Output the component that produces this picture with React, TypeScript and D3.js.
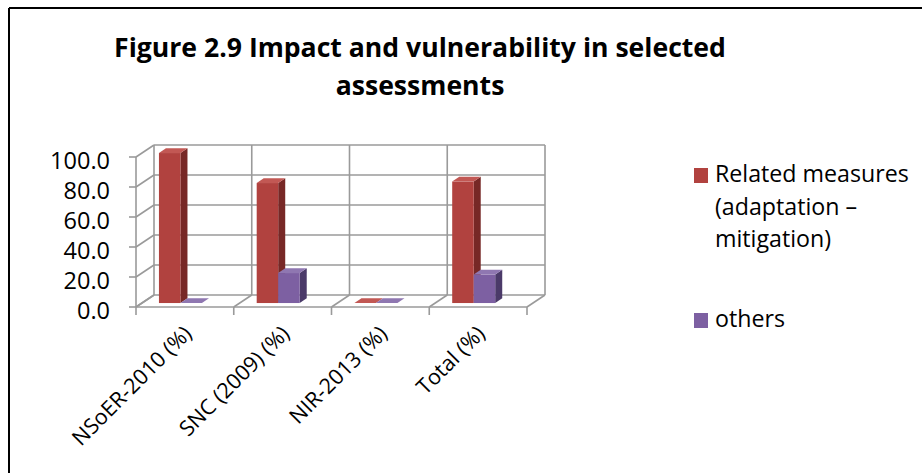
import React from "react";
import * as d3 from "d3";

const categories = ["NSoER-2010 (%)", "SNC (2009) (%)", "NIR-2013 (%)", "Total (%)"];
const relatedMeasures = [100, 80, 0, 81];
const others = [0, 20, 0, 19];
const yTicks = [0, 20, 40, 60, 80, 100];
const seriesNames = ["Related measures", "others"];
const legendLines = [["Related measures", "(adaptation –", "mitigation)"], ["others"]];
const titleLines = ["Figure 2.9 Impact and vulnerability in selected", "assessments"];

const seriesValues = [relatedMeasures, others];
const faceColors = [
  { front: "#B1423F", side: "#772826", top: "#C25854" },
  { front: "#7D60A2", side: "#4B3A69", top: "#8F77B1" },
];
const FONT = "'Open Sans', sans-serif";
const GRID = "#9a9a9a";

export default function App() {
  const W = 922, H = 473;
  const DX = 18, DY = 12;
  const x = d3.scaleBand<string>().domain(categories).range([136, 527]).padding(0);
  const yBack = d3.scaleLinear().domain([0, 100]).range([295, 145]);
  const yFront = (v: number) => yBack(v) + DY;
  const bw = x.bandwidth();
  const barW = bw * 0.22;
  const fFront = 0.33, fBack = 0.72;
  const ddx = (fBack - fFront) * DX, ddy = (fBack - fFront) * DY;
  const x0 = 136, x1 = 527;
  const bounds = [...categories.map((c) => x(c) as number), x1];

  const bars: JSX.Element[] = [];
  categories.forEach((c, ci) => {
    seriesValues.forEach((vals, si) => {
      const v = vals[ci];
      const fx = (x(c) as number) + bw * 0.174 + si * barW + fFront * DX;
      const base = yFront(0) - fFront * DY;
      const top = yFront(v) - fFront * DY;
      const r = fx + barW;
      const col = faceColors[si];
      const pts = (a: number[][]) => a.map((p) => p.join(",")).join(" ");
      bars.push(
        <g key={`${ci}-${si}`}>
          <polygon points={pts([[r, top], [r + ddx, top - ddy], [r + ddx, base - ddy], [r, base]])} fill={col.side} />
          <rect x={fx} y={top} width={barW} height={base - top} fill={col.front} />
          <polygon points={pts([[fx, top], [r, top], [r + ddx, top - ddy], [fx + ddx, top - ddy]])} fill={col.top} />
        </g>
      );
    });
  });

  return (
    <svg width={W} height={H} style={{ position: "absolute", left: 0, top: 0, background: "#fff" }}>
      {/* frame */}
      <line x1={9} y1={8} x2={W} y2={8} stroke="#000" strokeWidth={2} />
      <line x1={9} y1={8} x2={9} y2={H} stroke="#000" strokeWidth={2} />

      {/* title */}
      {titleLines.map((t, i) => (
        <text key={i} x={420} y={57 + i * 38} textAnchor="middle" fontFamily={FONT} fontWeight="bold" fontSize={26.6} fill="#000">
          {t}
        </text>
      ))}

      {/* back wall */}
      <rect x={x0 + DX} y={yBack(100)} width={x1 - x0} height={yBack(0) - yBack(100)} fill="#fff" />
      {yTicks.map((t) => (
        <g key={t}>
          <line x1={x0 + DX} x2={x1 + DX} y1={yBack(t)} y2={yBack(t)} stroke={GRID} strokeWidth={1.6} />
          <line x1={x0} y1={yFront(t)} x2={x0 + DX} y2={yBack(t)} stroke={GRID} strokeWidth={1.6} />
          <line x1={x0 - 7} x2={x0} y1={yFront(t)} y2={yFront(t)} stroke={GRID} strokeWidth={1.6} />
          <text x={110} y={yFront(t) + 11.5} textAnchor="end" fontFamily={FONT} fontSize={23.5} fill="#000">
            {d3.format(".1f")(t)}
          </text>
        </g>
      ))}
      {bounds.map((b, i) => (
        <g key={i}>
          <line x1={b + DX} x2={b + DX} y1={yBack(0)} y2={yBack(100)} stroke={GRID} strokeWidth={1.6} />
          <line x1={b} y1={yFront(0)} x2={b + DX} y2={yBack(0)} stroke={GRID} strokeWidth={1.6} />
          <line x1={b} x2={b} y1={yFront(0)} y2={yFront(0) + 8} stroke={GRID} strokeWidth={1.6} />
        </g>
      ))}
      <line x1={x0} x2={x0} y1={yFront(0)} y2={yFront(100)} stroke={GRID} strokeWidth={1.6} />
      <line x1={x0} x2={x1} y1={yFront(0)} y2={yFront(0)} stroke={GRID} strokeWidth={1.6} />

      {bars}

      {/* x labels */}
      {categories.map((c) => {
        const px = (x(c) as number) + 57;
        const py = 335;
        return (
          <text key={c} x={px} y={py} textAnchor="end" fontFamily={FONT} fontSize={21.5} fill="#000" transform={`rotate(-45 ${px} ${py})`}>
            {c}
          </text>
        );
      })}

      {/* legend */}
      {seriesNames.map((s, si) => {
        const ty = si === 0 ? 182 : 327;
        return (
          <g key={s}>
            <rect x={694} y={ty - 14} width={14} height={15} fill={faceColors[si].front} />
            {legendLines[si].map((l, li) => (
              <text key={li} x={715} y={ty + li * 32.5} fontFamily={FONT} fontSize={23.2} fill="#000">
                {l}
              </text>
            ))}
          </g>
        );
      })}
    </svg>
  );
}
